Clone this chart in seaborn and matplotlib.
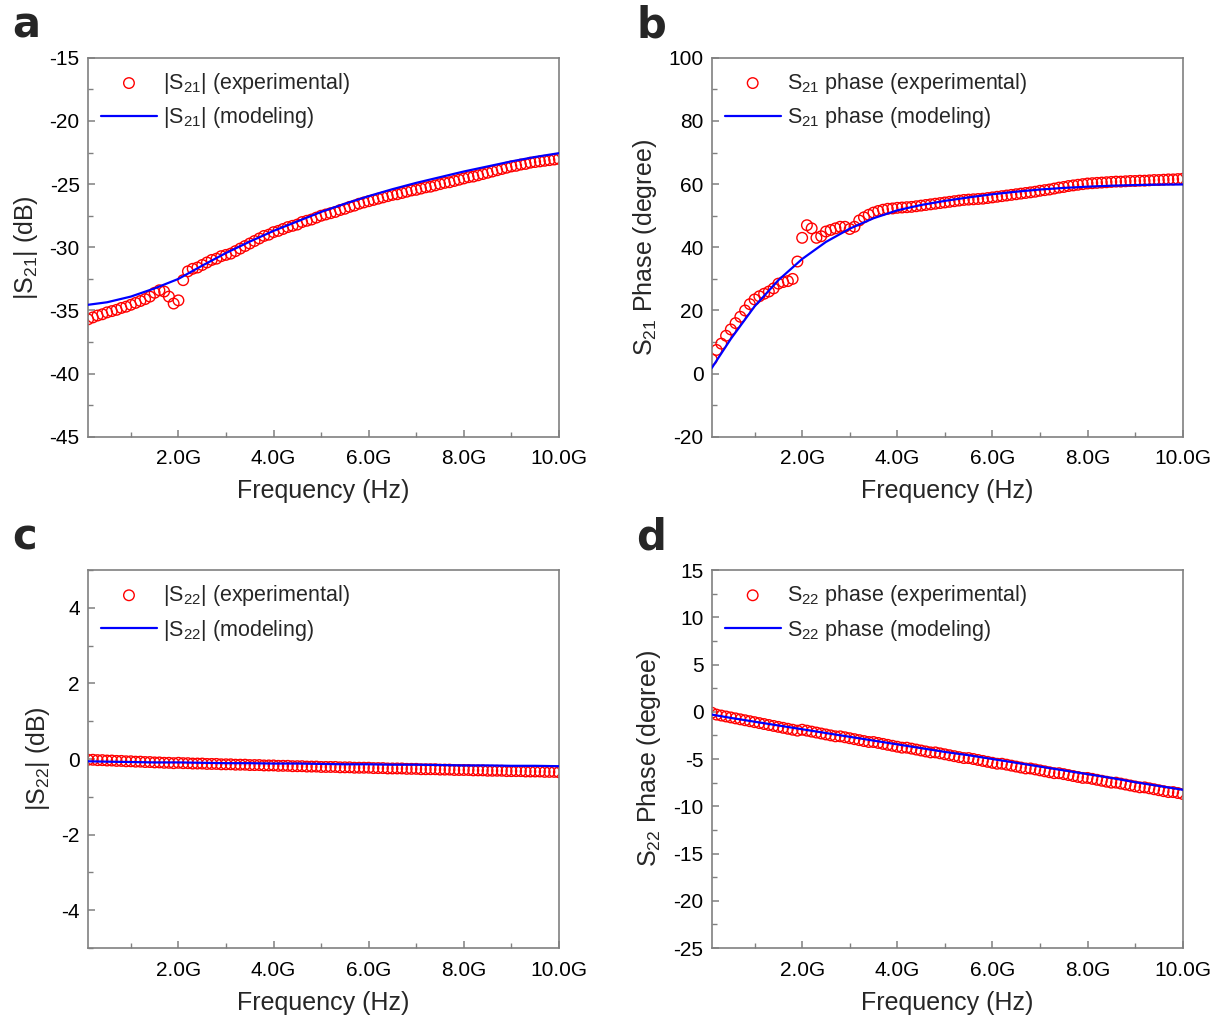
import numpy as np
import pandas as pd
import matplotlib
matplotlib.use("Agg")
import matplotlib.pyplot as plt
from matplotlib.ticker import MultipleLocator, FixedLocator
import seaborn as sns

# frequency grids in GHz (measurement sweep and model evaluation points)
freq_exp = np.round(np.arange(1, 101) * 0.1, 1)
freq_mod = [0.1, 0.5, 1.0, 1.5, 2.0, 2.5, 3.0, 3.5, 4.0, 4.5, 5.0,
            5.5, 6.0, 6.5, 7.0, 7.5, 8.0, 8.5, 9.0, 9.5, 10.0]

# |S21| (dB)
s21_mag_exp = [
    -35.70, -35.55, -35.40, -35.30, -35.15, -35.05, -34.95, -34.80, -34.70, -34.55,
    -34.40, -34.25, -34.10, -33.90, -33.60, -33.40, -33.50, -33.90, -34.45, -34.20,
    -32.60, -31.90, -31.70, -31.60, -31.40, -31.20, -31.00, -30.90, -30.70, -30.60,
    -30.50, -30.30, -30.10, -29.90, -29.70, -29.50, -29.30, -29.10, -29.00, -28.80,
    -28.70, -28.55, -28.40, -28.30, -28.20, -28.00, -27.90, -27.80, -27.65, -27.50,
    -27.40, -27.30, -27.20, -27.05, -26.95, -26.80, -26.70, -26.55, -26.45, -26.35,
    -26.25, -26.15, -26.05, -25.95, -25.85, -25.80, -25.70, -25.60, -25.50, -25.45,
    -25.35, -25.25, -25.20, -25.10, -25.00, -24.90, -24.85, -24.75, -24.65, -24.55,
    -24.45, -24.40, -24.30, -24.20, -24.10, -24.00, -23.90, -23.80, -23.70, -23.60,
    -23.55, -23.45, -23.40, -23.30, -23.25, -23.20, -23.15, -23.10, -23.05, -23.00,
]
s21_mag_mod = [-34.55, -34.35, -33.90, -33.25, -32.50, -31.45, -30.45, -29.55,
               -28.70, -27.95, -27.20, -26.55, -25.95, -25.40, -24.90, -24.45,
               -24.00, -23.60, -23.20, -22.85, -22.55]

# S21 phase (degree)
s21_ph_exp = [
    4.5, 7.5, 9.5, 12.0, 14.0, 16.0, 18.0, 20.0, 22.0, 23.5,
    24.5, 25.3, 26.0, 27.0, 28.5, 29.0, 29.3, 30.0, 35.5, 43.0,
    47.0, 46.0, 43.0, 43.5, 45.0, 45.5, 46.0, 46.5, 46.5, 45.8,
    46.5, 48.5, 49.5, 50.3, 51.0, 51.5, 51.9, 52.2, 52.3, 52.5,
    52.6, 52.7, 52.8, 53.0, 53.2, 53.4, 53.6, 53.8, 54.0, 54.2,
    54.4, 54.6, 54.8, 55.0, 55.1, 55.2, 55.3, 55.4, 55.6, 55.8,
    56.0, 56.2, 56.4, 56.6, 56.8, 57.0, 57.2, 57.4, 57.6, 57.9,
    58.1, 58.3, 58.6, 58.9, 59.1, 59.4, 59.6, 59.8, 60.0, 60.2,
    60.3, 60.4, 60.5, 60.6, 60.7, 60.8, 60.8, 60.9, 61.0, 61.0,
    61.1, 61.1, 61.2, 61.3, 61.3, 61.4, 61.5, 61.5, 61.6, 61.7,
]
s21_ph_mod = [1.8, 11.0, 21.3, 29.6, 36.3, 41.7, 45.9, 49.2, 51.7, 53.4, 54.7,
              55.8, 56.8, 57.6, 58.3, 58.8, 59.2, 59.5, 59.7, 59.85, 59.9]

# |S22| (dB)
s22_mag_exp = [
    -0.02, -0.02, -0.03, -0.03, -0.04, -0.04, -0.05, -0.05, -0.06, -0.06,
    -0.07, -0.07, -0.08, -0.08, -0.09, -0.09, -0.10, -0.10, -0.11, -0.10,
    -0.11, -0.11, -0.12, -0.12, -0.12, -0.13, -0.13, -0.13, -0.14, -0.14,
    -0.14, -0.15, -0.15, -0.15, -0.16, -0.16, -0.16, -0.17, -0.17, -0.17,
    -0.18, -0.18, -0.18, -0.19, -0.19, -0.19, -0.20, -0.20, -0.20, -0.21,
    -0.21, -0.21, -0.21, -0.22, -0.22, -0.22, -0.23, -0.23, -0.23, -0.23,
    -0.24, -0.24, -0.24, -0.25, -0.25, -0.25, -0.25, -0.26, -0.26, -0.26,
    -0.27, -0.27, -0.27, -0.27, -0.28, -0.28, -0.28, -0.29, -0.29, -0.29,
    -0.29, -0.30, -0.30, -0.30, -0.31, -0.31, -0.31, -0.31, -0.32, -0.32,
    -0.32, -0.32, -0.33, -0.33, -0.33, -0.33, -0.34, -0.34, -0.34, -0.35,
]
s22_mag_mod = [-0.06, -0.07, -0.08, -0.09, -0.09, -0.10, -0.11, -0.11, -0.12,
               -0.12, -0.13, -0.14, -0.14, -0.15, -0.15, -0.16, -0.17, -0.17,
               -0.18, -0.18, -0.19]

# S22 phase (degree)
s22_ph_exp = [
    -0.1, -0.3, -0.4, -0.5, -0.6, -0.7, -0.8, -0.9, -1.0, -1.1,
    -1.2, -1.3, -1.4, -1.5, -1.6, -1.7, -1.8, -1.9, -2.0, -1.9,
    -2.0, -2.1, -2.2, -2.3, -2.4, -2.5, -2.6, -2.6, -2.7, -2.8,
    -2.9, -3.0, -3.1, -3.2, -3.2, -3.3, -3.4, -3.5, -3.6, -3.7,
    -3.8, -3.8, -3.9, -4.0, -4.1, -4.2, -4.3, -4.3, -4.4, -4.5,
    -4.6, -4.7, -4.8, -4.9, -4.9, -5.0, -5.1, -5.2, -5.3, -5.4,
    -5.5, -5.5, -5.6, -5.7, -5.8, -5.9, -6.0, -6.0, -6.1, -6.2,
    -6.3, -6.4, -6.5, -6.5, -6.6, -6.7, -6.8, -6.9, -7.0, -7.0,
    -7.1, -7.2, -7.3, -7.4, -7.5, -7.5, -7.6, -7.7, -7.8, -7.9,
    -8.0, -8.0, -8.1, -8.2, -8.3, -8.4, -8.5, -8.5, -8.6, -8.7,
]
s22_ph_mod = [-0.3, -0.65, -1.05, -1.45, -1.85, -2.25, -2.65, -3.05, -3.45,
              -3.85, -4.25, -4.6, -5.0, -5.4, -5.8, -6.2, -6.6, -7.0, -7.45,
              -7.85, -8.25]

x_ticks = [2, 4, 6, 8, 10]
x_ticklabels = ["2.0G", "4.0G", "6.0G", "8.0G", "10.0G"]

sns.set_style("ticks")
plt.rcParams["font.family"] = ["Liberation Sans", "DejaVu Sans"]
plt.rcParams["mathtext.fontset"] = "custom"
plt.rcParams["mathtext.rm"] = "Liberation Sans"
plt.rcParams["mathtext.it"] = "Liberation Sans"
plt.rcParams["mathtext.default"] = "regular"
plt.rcParams["axes.unicode_minus"] = False

fig = plt.figure(figsize=(12.23, 10.23), dpi=100)

panels = [
    # letter, axes rect, exp, mod, ylim, ymajor, ylabel, legend names
    ("a", [0.072, 0.573, 0.385, 0.3705], s21_mag_exp, s21_mag_mod, (-45, -15), 5,
     "|S$_{21}$| (dB)", "|S$_{21}$| (experimental)", "|S$_{21}$| (modeling)"),
    ("b", [0.582, 0.573, 0.385, 0.3705], s21_ph_exp, s21_ph_mod, (-20, 100), 20,
     "S$_{21}$ Phase (degree)", "S$_{21}$ phase (experimental)", "S$_{21}$ phase (modeling)"),
    ("c", [0.072, 0.0733, 0.385, 0.3695], s22_mag_exp, s22_mag_mod, (-5, 5), 2,
     "|S$_{22}$| (dB)", "|S$_{22}$| (experimental)", "|S$_{22}$| (modeling)"),
    ("d", [0.582, 0.0733, 0.385, 0.3695], s22_ph_exp, s22_ph_mod, (-25, 15), 5,
     "S$_{22}$ Phase (degree)", "S$_{22}$ phase (experimental)", "S$_{22}$ phase (modeling)"),
]

for letter, rect, y_exp, y_mod, ylim, ymajor, ylabel, lab_exp, lab_mod in panels:
    ax = fig.add_axes(rect)
    sns.scatterplot(x=freq_exp, y=y_exp, ax=ax, marker="o", s=58,
                    facecolors="none", edgecolor="#FF0000", linewidth=1.0,
                    label=lab_exp, zorder=2)
    sns.lineplot(x=freq_mod, y=y_mod, ax=ax, color="#0000FF", linewidth=1.6,
                 label=lab_mod, zorder=3)

    ax.set_xlim(0.1, 10.0)
    ax.set_ylim(*ylim)
    ax.xaxis.set_major_locator(FixedLocator(x_ticks))
    ax.set_xticklabels(x_ticklabels)
    ax.xaxis.set_minor_locator(MultipleLocator(1))
    ax.yaxis.set_major_locator(MultipleLocator(ymajor))
    ax.yaxis.set_minor_locator(MultipleLocator(ymajor / 2))

    for sp in ax.spines.values():
        sp.set_color("#808080")
        sp.set_linewidth(1.2)
    ax.tick_params(which="major", direction="in", length=5, width=1.1,
                   color="#808080", labelsize=15, labelcolor="black", pad=6)
    ax.tick_params(axis="x", which="major", pad=9)
    ax.tick_params(which="minor", direction="in", length=3.5, width=1.0,
                   color="#808080")

    ax.set_xlabel("Frequency (Hz)", fontsize=18, labelpad=8)
    ax.set_ylabel(ylabel, fontsize=18, labelpad=7)

    ax.legend(loc="upper left", frameon=False, fontsize=15.5, handlelength=2.6,
              handletextpad=0.3, labelspacing=0.45, borderaxespad=0.2,
              bbox_to_anchor=(0.0, 1.0))

    ax.text(-0.16, 1.03, letter, transform=ax.transAxes, fontsize=30,
            fontweight="bold", family="DejaVu Sans", va="bottom", ha="left")

plt.savefig("out.png", dpi=100)
plt.close()
